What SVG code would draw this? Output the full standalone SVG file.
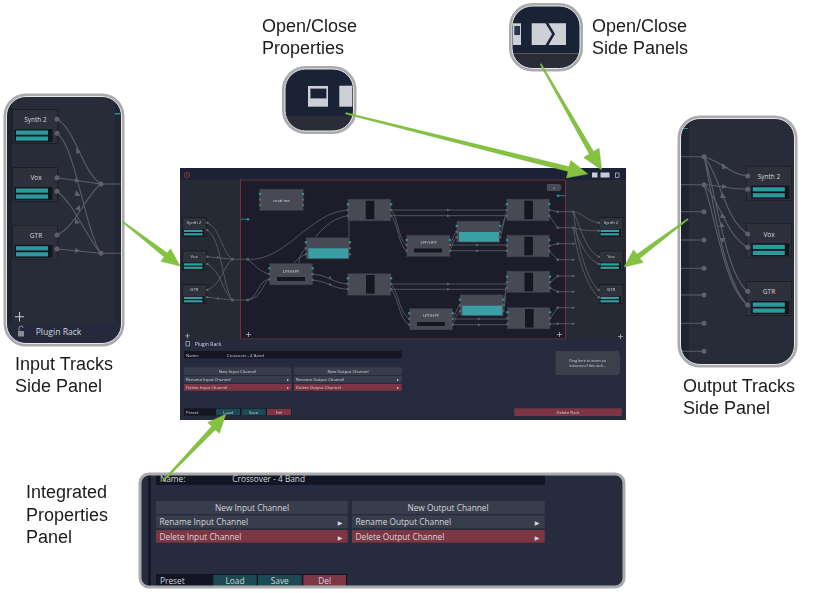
<svg xmlns="http://www.w3.org/2000/svg" xmlns:xlink="http://www.w3.org/1999/xlink" width="814" height="593" viewBox="0 0 814 593">
<style>
.lbl{font-family:"Liberation Sans",Arial,sans-serif;font-size:18px;fill:#1a1a1a}
.ui{font-family:"Open Sans","DejaVu Sans",sans-serif;fill:#d4d7de}
.s4{font-size:4.2px}.s5{font-size:5px}.s6{font-size:6px}
.s8{font-size:8.300px}.s65{font-size:6.500px}.s86{font-size:8.600px}
.m{text-anchor:middle}
.wire{fill:none;stroke:#5f626c;stroke-width:.8}
.wb{fill:none;stroke:#5b5e69;stroke-width:1.100}
.p{fill:#5e616b}.t{fill:#2a8f96}
.blk{fill:#484a54;stroke:#30323b;stroke-width:.6}
.hole{fill:#141824}
.tb{fill:#3b9ea4}
.frame{fill:none;stroke:#a9abac;stroke-width:3}
.frame2{fill:none;stroke:#e8e8e8;stroke-width:1}
.arrow{fill:#84c240;stroke:#6fa838;stroke-width:.4}
.row{fill:#383d4b}.del{fill:#7d3644}.btn{fill:#1d4a52}.bar{fill:#121624}
</style>
<defs>
<symbol id="smalltrack" viewBox="0 0 25 20" width="25" height="20">
<rect x=".4" y=".4" width="24.200" height="19.200" fill="#2e303b" stroke="#14161f" stroke-width=".7"/>
<rect x="1.500" y="12" width="21" height="7" fill="#14161f"/>
<rect x="2" y="12.800" width="18.500" height="2.200" fill="#2fa0a0"/>
<rect x="2" y="16.200" width="18.500" height="2.200" fill="#2fa0a0"/>
</symbol>
<symbol id="bigtrack" viewBox="0 0 46 35" width="46" height="35">
<rect x=".4" y=".4" width="45.200" height="34.200" fill="#2e303b" stroke="#14161f" stroke-width=".6"/>
<rect x="2.500" y="20" width="38" height="13" fill="#14161f"/>
<rect x="4" y="21.500" width="32" height="4.200" fill="#2a9a9c"/>
<rect x="4" y="27.500" width="32" height="4.200" fill="#2a9a9c"/>
</symbol>
<symbol id="bigtrackr" viewBox="0 0 46 35" width="46" height="35">
<rect x=".4" y=".4" width="45.200" height="34.200" fill="#2e303b" stroke="#14161f" stroke-width=".6"/>
<rect x="5" y="20" width="38" height="13" fill="#14161f"/>
<rect x="6.500" y="21.500" width="32" height="4.200" fill="#2a9a9c"/>
<rect x="6.500" y="27.500" width="32" height="4.200" fill="#2a9a9c"/>
</symbol>
<clipPath id="cl"><rect x="5" y="95" width="118" height="250" rx="21"/></clipPath>
<clipPath id="cr"><rect x="679" y="117" width="117" height="249" rx="21"/></clipPath>
<clipPath id="cb"><rect x="140" y="474" width="484" height="113" rx="9"/></clipPath>
<clipPath id="cp"><rect x="283" y="67" width="72" height="66" rx="22"/></clipPath>
<clipPath id="cs"><rect x="510" y="4" width="72" height="66" rx="22"/></clipPath>
<filter id="soft" x="0" y="0" width="1" height="1"><feGaussianBlur stdDeviation="0.3"/></filter>
</defs>
<rect width="814" height="593" fill="#fff"/>

<g id="main-window" filter="url(#soft)">
<rect x="180" y="168" width="446" height="252" fill="#262a35"/>
<rect x="180" y="168" width="446" height="12" fill="#1a2236"/>
<circle cx="187" cy="175" r="2.800" fill="none" stroke="#8a3040" stroke-width="1"/>
<path d="M185.800 173.800l2.400 2.400m0-2.400l-2.400 2.400" stroke="#8a3040" stroke-width=".6"/>
<rect x="240.500" y="180" width="325" height="159" fill="#1b1f2c" stroke="#8a3040" stroke-width=".8"/>
<rect x="592" y="172.500" width="5.500" height="5" fill="#c8ccd2"/>
<rect x="600.500" y="172.500" width="9" height="5" fill="#c8ccd2"/>
<rect x="615.500" y="173" width="3.500" height="4.500" fill="none" stroke="#c8ccd2" stroke-width=".7"/>
<path d="M547 184h13l1.500 3.500l-1.500 3.500h-13z" fill="#484a54"/>
<text x="554" y="189" class="ui s4 m">+</text>
<path d="M241 219.300h7" stroke="#2a8f96" stroke-width=".8"/><circle cx="248" cy="219.300" r="1.300" class="t"/>
<path d="M558 195.700h8" stroke="#2a8f96" stroke-width=".8"/><circle cx="558" cy="195.700" r="1.300" class="t"/>
<g fill="#aeb1b8"><path d="M185 335.500h5v.8h-5zM187.100 333.500h.8v5h-.8z"/><path d="M246 334h5v.8h-5zM248.100 332h.8v5h-.8z"/><path d="M557 334h5v.8h-5zM559.100 332h.8v5h-.8z"/><path d="M618 336h5v.8h-5zM620.100 334h.8v5h-.8z"/></g>
</g>

<g id="connectors" filter="url(#soft)">
<g class="wire">
<path d="M207.300 222.700C220 228 222 252 232.300 259.300M207.300 230C222 240 222 285 232.300 300M207.300 256.700L232.300 259.300M207.300 264C222 272 222 292 232.300 300M207.300 290C222 284 222 268 232.300 259.300M207.300 297.300L232.300 300"/>
<path d="M232.300 259.300H247.700M232.300 300H247.700"/>
<path d="M247.700 259.300C285 262 310 212 347.700 210M247.700 259.300C255 265 260 272 269.300 274M247.700 300C258 298 258 280 269.300 279.300M247.700 300C262 298 262 284 269.300 279.300"/>
<path d="M312.700 274C330 276 330 282 347.700 284M312.700 280C330 282 330 288 347.700 289.300M299 263.300C299 255 304 250 306 248.300M294 263.300C298 258 302 256 306 254.300M315 237.700C325 225 335 218 347.700 215.700M349 237.500V216"/>
<path d="M391 210H506.700M391 215.700H506.700M391 210C398 216 398 240 406.700 245M391 215.700C398 222 398 245 406.700 250.700"/>
<path d="M391 284H506.700M391 289.300H506.700M391 284C400 295 398 310 409.300 319M391 289.300C400 300 398 318 409.300 324.700"/>
<path d="M450 245C453 240 453 235 456.700 231.700M450 250.700C453 245 453 240 456.700 237.300M450 245H506.700M450 250.700H506.700M500 231.700C503 225 503 220 506.700 215.700M500 237.300C503 230 503 225 506.700 210"/>
<path d="M452.700 319C456 312 456 310 460 305.300M452.700 324.700C456 318 456 315 460 311M452.700 319H507.300M452.700 324.700H507.300M503.300 305.300C505 298 505 292 506.700 288M503.300 311C505 305 505 296 506.700 282.300"/>
<path d="M549.300 210L557.700 211.700M549.300 215.700L557.700 227.700M549.300 245.700L557.700 243.700M549.300 251L557.700 259.700M550 282.300L557.700 276M550 288L557.700 291.700M550 318.300L557.700 307.700M550 324L557.700 323.700"/>
<path d="M557.700 211.700H573.300M557.700 227.700H573.300M557.700 243.700H573.300M557.700 259.700H573.300M557.700 276H573.300M557.700 291.700H573.300M557.700 307.700H573.300M557.700 323.700H573.300"/>
<path d="M573.300 211.700C583 213 588 222 598.700 222.700M573.300 227.700C583 230 588 231 598.700 230.700M573.300 211.700C580 225 585 250 598.700 256.700M573.300 227.700C580 240 585 258 598.700 264M573.300 211.700C576 235 585 280 598.700 290M573.300 227.700C576 250 585 285 598.700 297.300"/>
</g>
<g class="p">
<circle cx="232.300" cy="259.300" r="1.500"/><circle cx="232.300" cy="300" r="1.500"/><circle cx="247.700" cy="259.300" r="1.500"/><circle cx="247.700" cy="300" r="1.500"/>
<circle cx="557.700" cy="211.700" r="1.300"/><circle cx="557.700" cy="227.700" r="1.300"/><circle cx="557.700" cy="243.700" r="1.300"/><circle cx="557.700" cy="259.700" r="1.300"/><circle cx="557.700" cy="276" r="1.300"/><circle cx="557.700" cy="291.700" r="1.300"/><circle cx="557.700" cy="307.700" r="1.300"/><circle cx="557.700" cy="323.700" r="1.300"/>
<circle cx="573.300" cy="211.700" r="1.300"/><circle cx="573.300" cy="227.700" r="1.300"/><circle cx="573.300" cy="243.700" r="1.300"/><circle cx="573.300" cy="259.700" r="1.300"/><circle cx="573.300" cy="276" r="1.300"/><circle cx="573.300" cy="291.700" r="1.300"/><circle cx="573.300" cy="307.700" r="1.300"/><circle cx="573.300" cy="323.700" r="1.300"/>
<path d="M447 208.500l3 1.500l-3 1.500zM447 214.200l3 1.500l-3 1.500zM447 282.500l3 1.500l-3 1.500zM447 287.800l3 1.500l-3 1.500zM476 243.500l3 1.500l-3 1.500zM476 249.200l3 1.500l-3 1.500zM478 317.500l3 1.500l-3 1.500zM478 323.200l3 1.500l-3 1.500zM329 276l3 1.500l-3 1.500zM329 283l3 1.500l-3 1.500zM217 256l3 1.500l-3 1.500zM217 297l3 1.500l-3 1.500z"/>
</g>
</g>

<g id="mini-nodes" filter="url(#soft)">
<g id="node-readme"><rect x="259.700" y="189" width="43.600" height="21.700" class="blk"/><text x="281.500" y="201.500" class="ui s4 m">read me</text><circle cx="260" cy="194" r="1.300" class="t"/><circle cx="260" cy="199.500" r="1.300" class="p"/><circle cx="260" cy="205" r="1.300" class="p"/><circle cx="303" cy="194" r="1.300" class="t"/><circle cx="303" cy="199.500" r="1.300" class="p"/><circle cx="303" cy="205" r="1.300" class="p"/></g>
<g id="node-a"><rect x="347.700" y="199" width="43.300" height="22" class="blk"/><rect x="365.700" y="200.700" width="8.600" height="18.600" class="hole"/><circle cx="348" cy="204.300" r="1.300" class="t"/><circle cx="348" cy="210" r="1.300" class="p"/><circle cx="348" cy="215.700" r="1.300" class="p"/><circle cx="391" cy="204.300" r="1.300" class="t"/><circle cx="391" cy="210" r="1.300" class="p"/><circle cx="391" cy="215.700" r="1.300" class="p"/></g>
<g id="node-b"><rect x="347.700" y="273.300" width="43.300" height="22" class="blk"/><rect x="366" y="275" width="8.600" height="18.600" class="hole"/><circle cx="348" cy="278.300" r="1.300" class="t"/><circle cx="348" cy="284" r="1.300" class="p"/><circle cx="348" cy="289.300" r="1.300" class="p"/><circle cx="391" cy="278.300" r="1.300" class="t"/><circle cx="391" cy="284" r="1.300" class="p"/><circle cx="391" cy="289.300" r="1.300" class="p"/></g>
<g id="node-c"><rect x="506.700" y="199" width="42.600" height="22" class="blk"/><rect x="524.300" y="200.700" width="8.600" height="18.600" class="hole"/><circle cx="507" cy="204.300" r="1.300" class="t"/><circle cx="507" cy="210" r="1.300" class="p"/><circle cx="507" cy="215.700" r="1.300" class="p"/><circle cx="549.300" cy="204" r="1.300" class="t"/><circle cx="549.300" cy="210" r="1.300" class="p"/><circle cx="549.300" cy="215.700" r="1.300" class="p"/></g>
<g id="node-d"><rect x="506.700" y="235" width="42.600" height="22" class="blk"/><rect x="524.300" y="236.700" width="8.600" height="18.600" class="hole"/><circle cx="507" cy="240" r="1.300" class="t"/><circle cx="507" cy="245.700" r="1.300" class="p"/><circle cx="507" cy="251" r="1.300" class="p"/><circle cx="549.300" cy="240" r="1.300" class="t"/><circle cx="549.300" cy="245.700" r="1.300" class="p"/><circle cx="549.300" cy="251" r="1.300" class="p"/></g>
<g id="node-e"><rect x="506.700" y="271" width="43.300" height="21.700" class="blk"/><rect x="524.500" y="272.700" width="8.600" height="18.600" class="hole"/><circle cx="507" cy="276.700" r="1.300" class="t"/><circle cx="507" cy="282.300" r="1.300" class="p"/><circle cx="507" cy="288" r="1.300" class="p"/><circle cx="550" cy="276.700" r="1.300" class="t"/><circle cx="550" cy="282.300" r="1.300" class="p"/><circle cx="550" cy="288" r="1.300" class="p"/></g>
<g id="node-f"><rect x="507.300" y="307.300" width="42.700" height="21.700" class="blk"/><rect x="525" y="309" width="8.600" height="18.600" class="hole"/><circle cx="507.500" cy="312.300" r="1.300" class="t"/><circle cx="507.500" cy="318.300" r="1.300" class="p"/><circle cx="507.500" cy="324" r="1.300" class="p"/><circle cx="550" cy="312.300" r="1.300" class="t"/><circle cx="550" cy="318.300" r="1.300" class="p"/><circle cx="550" cy="324" r="1.300" class="p"/></g>
<g id="node-teal1"><rect x="306" y="237.700" width="43.700" height="21.300" class="blk"/><rect x="308.300" y="248.300" width="40" height="10" class="tb"/><circle cx="306" cy="242.300" r="1.300" class="t"/><circle cx="306" cy="248.300" r="1.300" class="p"/><circle cx="306" cy="254.300" r="1.300" class="p"/><circle cx="349.700" cy="242.300" r="1.300" class="t"/><circle cx="349.700" cy="248.300" r="1.300" class="p"/><circle cx="349.700" cy="254.300" r="1.300" class="p"/></g>
<g id="node-teal2"><rect x="456.700" y="221" width="43.300" height="21.300" class="blk"/><rect x="459" y="232" width="40" height="9.700" class="tb"/><circle cx="456.700" cy="226" r="1.300" class="t"/><circle cx="456.700" cy="231.700" r="1.300" class="p"/><circle cx="456.700" cy="237.300" r="1.300" class="p"/><circle cx="500" cy="226" r="1.300" class="t"/><circle cx="500" cy="231.700" r="1.300" class="p"/><circle cx="500" cy="237.300" r="1.300" class="p"/></g>
<g id="node-teal3"><rect x="460" y="294.700" width="43.300" height="21" class="blk"/><rect x="462.300" y="305.700" width="40" height="9.700" class="tb"/><circle cx="460" cy="299.700" r="1.300" class="t"/><circle cx="460" cy="305.300" r="1.300" class="p"/><circle cx="460" cy="311" r="1.300" class="p"/><circle cx="503.300" cy="299.700" r="1.300" class="t"/><circle cx="503.300" cy="305.300" r="1.300" class="p"/><circle cx="503.300" cy="311" r="1.300" class="p"/></g>
<g id="node-lpf1"><rect x="269.300" y="263.300" width="43.400" height="21.700" class="blk"/><text x="291" y="272.500" class="ui s4 m">LPF/HPF</text><rect x="277" y="277" width="28" height="4" class="hole"/><circle cx="269.500" cy="268.300" r="1.300" class="t"/><circle cx="269.500" cy="274" r="1.300" class="p"/><circle cx="269.500" cy="279.300" r="1.300" class="p"/><circle cx="312.700" cy="268.300" r="1.300" class="t"/><circle cx="312.700" cy="274" r="1.300" class="p"/><circle cx="312.700" cy="280" r="1.300" class="p"/></g>
<g id="node-lpf2"><rect x="406.700" y="235" width="43.300" height="21.700" class="blk"/><text x="428.500" y="243.500" class="ui s4 m">LPF/HPF</text><rect x="414" y="248.500" width="28" height="4" class="hole"/><circle cx="406.700" cy="240" r="1.300" class="t"/><circle cx="406.700" cy="245" r="1.300" class="p"/><circle cx="406.700" cy="250.700" r="1.300" class="p"/><circle cx="450" cy="240" r="1.300" class="t"/><circle cx="450" cy="245" r="1.300" class="p"/><circle cx="450" cy="250.700" r="1.300" class="p"/></g>
<g id="node-lpf3"><rect x="409.300" y="308.300" width="43.400" height="21.700" class="blk"/><text x="431" y="316.500" class="ui s4 m">LPF/HPF</text><rect x="417" y="322" width="28" height="4" class="hole"/><circle cx="409.300" cy="313.300" r="1.300" class="t"/><circle cx="409.300" cy="319" r="1.300" class="p"/><circle cx="409.300" cy="324.700" r="1.300" class="p"/><circle cx="452.700" cy="313.300" r="1.300" class="t"/><circle cx="452.700" cy="319" r="1.300" class="p"/><circle cx="452.700" cy="324.700" r="1.300" class="p"/></g>
<g id="in-tracks">
<use xlink:href="#smalltrack" x="182" y="217"/><text x="194" y="224" class="ui s4 m">Synth 2</text>
<use xlink:href="#smalltrack" x="182" y="250.500"/><text x="194" y="257.500" class="ui s4 m">Vox</text>
<use xlink:href="#smalltrack" x="182" y="284"/><text x="194" y="291" class="ui s4 m">GTR</text>
<g class="p"><circle cx="207.300" cy="222.700" r="1.300"/><circle cx="207.300" cy="230" r="1.300"/><circle cx="207.300" cy="256.700" r="1.300"/><circle cx="207.300" cy="264" r="1.300"/><circle cx="207.300" cy="290" r="1.300"/><circle cx="207.300" cy="297.300" r="1.300"/></g>
</g>
<g id="out-tracks">
<use xlink:href="#smalltrack" x="598.500" y="217"/><text x="611" y="224" class="ui s4 m">Synth 2</text>
<use xlink:href="#smalltrack" x="598.500" y="250.500"/><text x="611" y="257.500" class="ui s4 m">Vox</text>
<use xlink:href="#smalltrack" x="598.500" y="284"/><text x="611" y="291" class="ui s4 m">GTR</text>
<g class="p"><circle cx="598.700" cy="222.700" r="1.300"/><circle cx="598.700" cy="230.700" r="1.300"/><circle cx="598.700" cy="256.700" r="1.300"/><circle cx="598.700" cy="264" r="1.300"/><circle cx="598.700" cy="290" r="1.300"/><circle cx="598.700" cy="297.300" r="1.300"/></g>
</g>
</g>

<g id="properties-panel" filter="url(#soft)">
<rect x="180" y="339.500" width="446" height="80.500" fill="#252b3c"/>
<rect x="186" y="341.500" width="3.500" height="4.500" fill="none" stroke="#b4b7be" stroke-width=".7"/>
<text x="194.700" y="346" class="ui s5">Plugin Rack</text>
<rect x="184" y="351" width="217.700" height="7.300" class="bar"/>
<text x="186" y="356.500" class="ui s4">Name:</text><text x="227" y="356.800" class="ui s4">Crossover - 4 Band</text>
<rect x="184" y="367.300" width="107.300" height="7.700" class="row"/><text x="237.500" y="373" class="ui s4 m">New Input Channel</text>
<rect x="294" y="367.300" width="107.700" height="7.700" class="row"/><text x="348" y="373" class="ui s4 m">New Output Channel</text>
<rect x="184" y="376" width="107.300" height="6.800" class="row"/><text x="186" y="381" class="ui s4">Rename Input Channel</text><text x="288" y="381" class="ui s4 m">▸</text>
<rect x="294" y="376" width="107.700" height="6.800" class="row"/><text x="296" y="381" class="ui s4">Rename Output Channel</text><text x="398" y="381" class="ui s4 m">▸</text>
<rect x="184" y="384" width="107.300" height="6.800" class="del"/><text x="186" y="389" class="ui s4">Delete Input Channel</text><text x="288" y="389" class="ui s4 m">▸</text>
<rect x="294" y="384" width="107.700" height="6.800" class="del"/><text x="296" y="389" class="ui s4">Delete Output Channel</text><text x="398" y="389" class="ui s4 m">▸</text>
<rect x="184" y="408.300" width="107.300" height="7.400" class="bar"/><text x="186" y="413.800" class="ui s4">Preset</text>
<rect x="216" y="408.700" width="24" height="6.700" class="btn"/><text x="228" y="413.800" class="ui s4 m">Load</text>
<rect x="241.500" y="408.700" width="24" height="6.700" class="btn"/><text x="253.500" y="413.800" class="ui s4 m">Save</text>
<rect x="267" y="408.700" width="24" height="6.700" class="del"/><text x="279" y="413.800" class="ui s4 m">Del</text>
<rect x="514.300" y="408.300" width="107.400" height="7.700" class="del"/><text x="568" y="413.800" class="ui s4 m">Delete Rack</text>
<path d="M555.700 351h62l2.300 3v18l-2.300 3h-62z" fill="#3a3f4d"/>
<text x="587.500" y="362" class="ui m" style="font-size:3.600px">Drag here to insert an</text><text x="587.500" y="366.500" class="ui m" style="font-size:3.600px">instance of this rack...</text>
</g>

<g id="lens-properties">
<g clip-path="url(#cp)">
<rect x="282" y="66" width="75" height="50" fill="#1a2236"/>
<rect x="282" y="116" width="75" height="18" fill="#2a2d38"/>
<rect x="308" y="86" width="20" height="20.700" fill="#cdd1d6"/>
<rect x="310.300" y="88.700" width="16" height="9.600" fill="#1a2236" stroke="#7c8190" stroke-width=".6"/>
<rect x="339.300" y="85.700" width="13" height="21" fill="#cdd1d6"/>
</g>
<rect x="283.500" y="67.500" width="71.500" height="65" rx="22" class="frame"/>
<rect x="285" y="69" width="68.500" height="62" rx="20.500" class="frame2"/>
</g>

<g id="lens-side">
<g clip-path="url(#cs)">
<rect x="509" y="3" width="75" height="50.300" fill="#1a2236"/>
<rect x="509" y="53.300" width="75" height="18" fill="#2a2d38"/>
<rect x="513" y="23.300" width="8" height="21.700" fill="#cdd1d6"/>
<rect x="514.300" y="26" width="5.700" height="9" fill="#2c3550"/>
<path d="M531.700 23.300H545.500L552 34L545.500 45H531.700z" fill="#cdd1d6"/>
<path d="M548.500 23.300H566V45H548.500L555 34z" fill="#cdd1d6"/>
</g>
<rect x="510.500" y="4.500" width="71" height="65.500" rx="22" class="frame"/>
<rect x="512" y="6" width="68" height="62.500" rx="20.500" class="frame2"/>
</g>

<g id="input-side-panel">
<g clip-path="url(#cl)">
<rect x="4" y="94" width="120" height="252" fill="#282c38"/>
<rect x="4" y="94" width="8" height="252" fill="#1e2330"/>
<rect x="115" y="94" width="9" height="252" fill="#232733"/>
<rect x="115" y="113" width="5" height="1.500" fill="#2a8f96"/>
<rect x="4" y="323" width="120" height="23" fill="#242a3c"/>
<use xlink:href="#bigtrack" x="12" y="109"/><use xlink:href="#bigtrack" x="12" y="167"/><use xlink:href="#bigtrack" x="12" y="224.700"/>
<text x="35.500" y="122" class="ui s65 m">Synth 2</text>
<text x="36" y="180" class="ui s65 m">Vox</text>
<text x="36" y="238" class="ui s65 m">GTR</text>
<g class="wb">
<path d="M57 119.300C75 128 82 172 101 184M57 133.300C75 145 85 230 101 253.300M57 177.700L101 184M57 191.300C75 205 88 240 101 253.300M57 235C75 228 85 196 101 184M57 249L101 253.300M101 184H121M101 253.300H121"/>
</g>
<g class="p">
<circle cx="57" cy="119.300" r="2.500"/><circle cx="57" cy="133.300" r="2.500"/><circle cx="57" cy="177.700" r="2.500"/><circle cx="57" cy="191.300" r="2.500"/><circle cx="57" cy="235" r="2.500"/><circle cx="57" cy="249" r="2.500"/><circle cx="101" cy="184" r="2.500"/><circle cx="101" cy="253.300" r="2.500"/>
<path d="M76 148l5 4l-4.500 2zM75 178l5 2.500l-5 2.500zM76 190l4.500 6h-5.500zM75 209l5 -4v6zM75 218l5 5l-5 1zM75 248l5 2.500l-5 2.500z"/>
</g>
<path d="M15 316.300h9v1h-9zM19 312h1v9.500h-1z" fill="#c8cbd0"/>
<rect x="18" y="331" width="6" height="5.500" fill="#8a8d95"/><path d="M19 331v-3a2 2 0 0 1 4 0" fill="none" stroke="#8a8d95" stroke-width="1"/>
<text x="35.700" y="334.500" class="ui s86">Plugin Rack</text>
</g>
<rect x="5" y="95" width="118" height="250" rx="21" class="frame"/>
<rect x="6.500" y="96.500" width="115" height="247" rx="19.500" class="frame2"/>
</g>

<g id="output-side-panel">
<g clip-path="url(#cr)">
<rect x="678" y="116" width="120" height="252" fill="#282c38"/>
<rect x="678" y="116" width="11" height="252" fill="#1e2330"/>
<rect x="682" y="128" width="6" height="1" fill="#2a8f96"/>
<use xlink:href="#bigtrackr" x="746.300" y="165.700"/><use xlink:href="#bigtrackr" x="746.300" y="223.300"/><use xlink:href="#bigtrackr" x="746.300" y="281"/>
<text x="769" y="179" class="ui s65 m">Synth 2</text>
<text x="769" y="236.500" class="ui s65 m">Vox</text>
<text x="769" y="294" class="ui s65 m">GTR</text>
<g class="wb">
<path d="M680 156.700H704M680 184.700H704M680 211.700H704M680 240H704M680 268.300H704M680 295H704M680 323.300H704M680 351.300H704"/>
<path d="M704 156.700C722 162 730 174 747.700 176M704 184.700C722 186 730 189 747.700 189.300M704 156.700C720 175 725 220 747.700 234M704 184.700C720 200 725 235 747.700 247.300M704 156.700C715 185 725 275 747.700 291.300M704 184.700C715 215 725 290 747.700 305M704 156.700C712 190 722 280 747.700 305"/>
</g>
<g class="p">
<circle cx="704" cy="156.700" r="2.500"/><circle cx="704" cy="184.700" r="2.500"/><circle cx="704" cy="211.700" r="2.500"/><circle cx="704" cy="240" r="2.500"/><circle cx="704" cy="268.300" r="2.500"/><circle cx="704" cy="295" r="2.500"/><circle cx="704" cy="323.300" r="2.500"/><circle cx="704" cy="351.300" r="2.500"/>
<circle cx="747.700" cy="176" r="2.500"/><circle cx="747.700" cy="189.300" r="2.500"/><circle cx="747.700" cy="234" r="2.500"/><circle cx="747.700" cy="247.300" r="2.500"/><circle cx="747.700" cy="291.300" r="2.500"/><circle cx="747.700" cy="305" r="2.500"/>
<path d="M722 163l6 5l-6 1zM722 184l5 2.500l-5 2.500zM722 192l4 6h-6zM722 213l4 5h-6zM721 222l4 5h-6zM722 243l4 -5h-6z"/>
</g>
</g>
<rect x="679" y="117" width="117" height="249" rx="21" class="frame"/>
<rect x="680.500" y="118.500" width="114" height="246" rx="19.500" class="frame2"/>
</g>

<g id="integrated-properties-panel">
<g clip-path="url(#cb)">
<rect x="139" y="473" width="486" height="115" fill="#262c3d"/>
<rect x="148" y="473" width="3" height="115" fill="#141826"/>
<rect x="156" y="473" width="389" height="12" class="bar"/>
<text x="160" y="482" class="ui s8">Name:</text><text x="232.300" y="482" class="ui s8">Crossover - 4 Band</text>
<rect x="156" y="501" width="191.700" height="13" class="row"/><text x="252" y="511" class="ui s8 m">New Input Channel</text>
<rect x="352" y="501" width="192.700" height="13" class="row"/><text x="448" y="511" class="ui s8 m">New Output Channel</text>
<rect x="156" y="515.300" width="191.700" height="13" class="row"/><text x="159.500" y="525" class="ui s8">Rename Input Channel</text><text x="340" y="525" class="ui s6 m">▶</text>
<rect x="352" y="515.300" width="192.700" height="13" class="row"/><text x="355.500" y="525" class="ui s8">Rename Output Channel</text><text x="537" y="525" class="ui s6 m">▶</text>
<rect x="156" y="530" width="191.700" height="12.700" class="del"/><text x="159.500" y="539.500" class="ui s8">Delete Input Channel</text><text x="340" y="539.500" class="ui s6 m">▶</text>
<rect x="352" y="530" width="192.700" height="12.700" class="del"/><text x="355.500" y="539.500" class="ui s8">Delete Output Channel</text><text x="537" y="539.500" class="ui s6 m">▶</text>
<rect x="156" y="574" width="191" height="14" class="bar"/><text x="160" y="584" class="ui s8">Preset</text>
<rect x="213.300" y="575" width="43.400" height="13" class="btn"/><text x="235" y="584" class="ui s8 m">Load</text>
<rect x="258" y="575" width="43.700" height="13" class="btn"/><text x="279.800" y="584" class="ui s8 m">Save</text>
<rect x="303.300" y="575" width="42.700" height="13" class="del"/><text x="324.700" y="584" class="ui s8 m">Del</text>
</g>
<rect x="140" y="474" width="484" height="113" rx="9" class="frame"/>
</g>

<g id="arrows">
<polygon class="arrow" points="345.900,112.600 569.200,166.800 570.800,160.500 588,174 566.400,177.900 568,171.600 345.500,114"/>
<polygon class="arrow" points="541.300,63.600 593.500,151.500 599.100,148.200 601.700,170 583.700,157.400 589.300,154.100 540.100,64.400"/>
<polygon class="arrow" points="123.400,221.500 167.200,253 170.600,248.700 180,266 160.800,261.300 164.200,257 122.600,222.500"/>
<polygon class="arrow" points="687.600,218.500 636.900,254.200 633.600,249.800 624,267 643.200,262.600 639.900,258.200 688.400,219.500"/>
<polygon class="arrow" points="163.500,481.500 215.300,429.700 219.300,433.500 226,414 207.700,422.500 211.700,426.300 162.500,480.500"/>
</g>

<g id="labels">
<text x="262" y="32" class="lbl">Open/Close</text><text x="262" y="54" class="lbl">Properties</text>
<text x="592" y="32" class="lbl">Open/Close</text><text x="592" y="54" class="lbl">Side Panels</text>
<text x="15" y="370" class="lbl">Input Tracks</text><text x="15" y="392" class="lbl">Side Panel</text>
<text x="683" y="392" class="lbl">Output Tracks</text><text x="683" y="414" class="lbl">Side Panel</text>
<text x="26" y="498" class="lbl">Integrated</text><text x="26" y="521" class="lbl">Properties</text><text x="26" y="543" class="lbl">Panel</text>
</g>
</svg>
